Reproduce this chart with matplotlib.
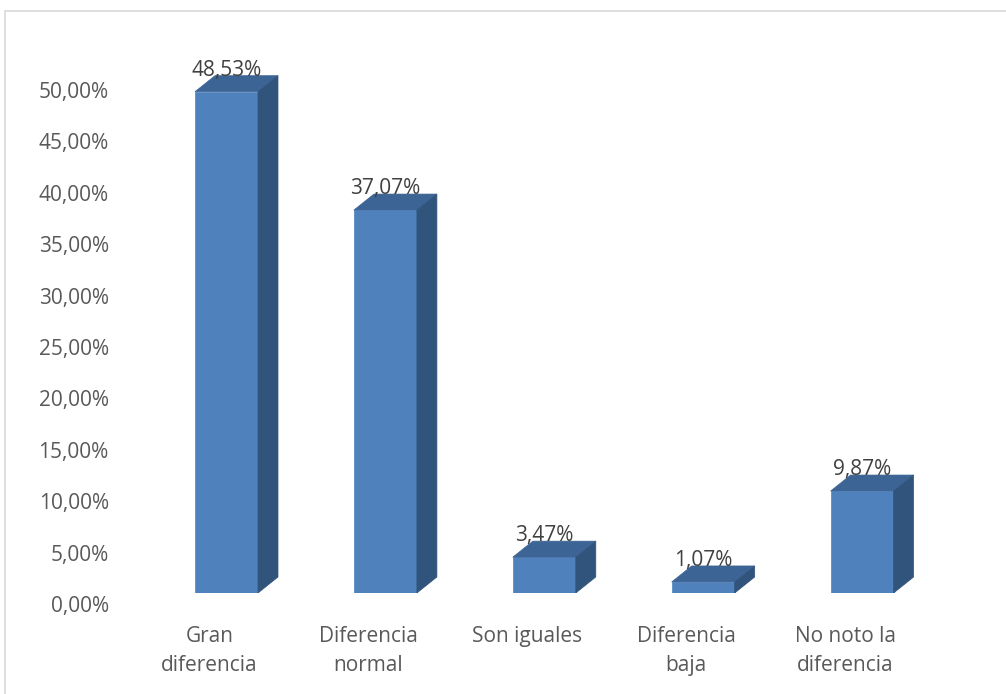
import matplotlib
matplotlib.use("Agg")
import matplotlib.pyplot as plt
from matplotlib.patches import Polygon, Rectangle
from matplotlib.transforms import ScaledTranslation
import numpy as np

categories = ["Gran\ndiferencia", "Diferencia\nnormal", "Son iguales", "Diferencia\nbaja", "No noto la\ndiferencia"]
values = [48.53, 37.07, 3.47, 1.07, 9.87]
value_labels = ["48,53%", "37,07%", "3,47%", "1,07%", "9,87%"]
tick_values = [0, 5, 10, 15, 20, 25, 30, 35, 40, 45, 50]
tick_labels = ["0,00%", "5,00%", "10,00%", "15,00%", "20,00%", "25,00%", "30,00%",
               "35,00%", "40,00%", "45,00%", "50,00%"]

plt.rcParams['font.family'] = ['Open Sans', 'DejaVu Sans']
FS = 15
TXT = "#595959"
FRONT = "#4F81BD"
TOP = "#3C6494"
SIDE = "#31547C"

W, H = 1006, 694
fig = plt.figure(figsize=(W / 100, H / 100), dpi=100)
fig.patch.set_facecolor("white")

# outer border
fig.patches.append(Rectangle((5 / W, -0.05), 1.1, (H - 11) / H + 0.05, transform=fig.transFigure,
                             fill=False, edgecolor="#d9d9d9", linewidth=1.2))

# main axes (front plane of bars)
px_per_x = 158.9
px_per_y = 10.33
x0_px, base_px = 226.5, 593
xlim = (-0.5, 4.5)
ylim = (0, 55)
left_px = x0_px + xlim[0] * px_per_x
width_px = (xlim[1] - xlim[0]) * px_per_x
bottom_px = H - base_px
height_px = (ylim[1] - ylim[0]) * px_per_y
ax = fig.add_axes([left_px / W, bottom_px / H, width_px / W, height_px / H])
ax.set_xlim(*xlim)
ax.set_ylim(*ylim)
ax.patch.set_alpha(0)
for s in ax.spines.values():
    s.set_visible(False)
ax.set_yticks([])

x = np.arange(len(values))
bw = 63 / px_per_x
dx = 20 / px_per_x
dy = 16 / px_per_y

ax.bar(x, values, width=bw, color=FRONT, edgecolor="#5b8cc6", linewidth=0.6, zorder=3)
for xi, v, lab in zip(x, values, value_labels):
    l, r = xi - bw / 2, xi + bw / 2
    top = Polygon([(l, v), (r, v), (r + dx, v + dy), (l + dx, v + dy)], closed=True,
                  facecolor=TOP, edgecolor=TOP, linewidth=0.5, zorder=3)
    side = Polygon([(r, 0), (r, v), (r + dx, v + dy), (r + dx, dy)], closed=True,
                   facecolor=SIDE, edgecolor=SIDE, linewidth=0.5, zorder=3)
    ax.add_patch(top)
    ax.add_patch(side)
    ax.annotate(lab, (xi, v), xytext=(0, 16), textcoords="offset pixels",
                ha="center", va="baseline", fontsize=FS, color="#404040", zorder=4)

ax.set_xticks(x)
ax.set_xticklabels(categories, fontsize=FS, color=TXT, linespacing=1.5)
ax.tick_params(axis="x", length=0, pad=24)
for t in ax.get_xticklabels():
    t.set_transform(t.get_transform() + ScaledTranslation(-17 / 100, 0, fig.dpi_scale_trans))

# tick-label axes (back plane)
tick_px_per_y = 10.28
tick_base_px = 604
axt = fig.add_axes([115 / W, (H - tick_base_px) / H, 10 / W, 55 * tick_px_per_y / H])
axt.set_ylim(0, 55)
axt.patch.set_alpha(0)
for s in axt.spines.values():
    s.set_visible(False)
axt.set_xticks([])
axt.set_yticks(tick_values)
axt.set_yticklabels(tick_labels, fontsize=FS, color=TXT)
axt.tick_params(axis="y", length=0, pad=4.5)

fig.savefig("out.png", dpi=100, facecolor="white")
